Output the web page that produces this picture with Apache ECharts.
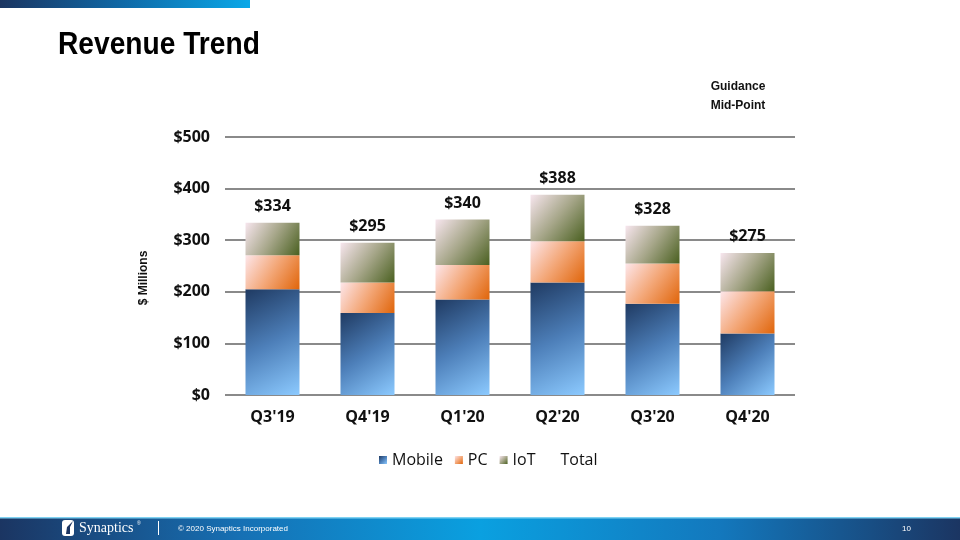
<!DOCTYPE html>
<html>
<head>
<meta charset="utf-8">
<script src="https://cdn.jsdelivr.net/npm/echarts@6/dist/echarts.min.js"></script>
<style>
html,body{margin:0;padding:0;background:#fff;}
#chart{width:960px;height:540px;}
</style>
</head>
<body>
<div id="chart"></div>
<script>
var categories = ["Q3'19", "Q4'19", "Q1'20", "Q2'20", "Q3'20", "Q4'20"];
var mobile = [205, 159, 185, 218, 177, 119];
var pc = [66, 59, 67, 80, 78, 82];
var iot = [63, 77, 88, 90, 73, 74];
var totals = [334, 295, 340, 388, 328, 275];
var yTicks = [0, 100, 200, 300, 400, 500];

var chart = echarts.init(document.getElementById('chart'));
var fontMain = '"Open Sans", "Liberation Sans", sans-serif';

function grad(stops) {
  return { type: 'linear', x: 0, y: 0, x2: 1, y2: 1,
    colorStops: stops.map(function (s) { return { offset: s[0], color: s[1] }; }) };
}
var mobileColor = grad([[0, '#1f3a62'], [0.5, '#4d7fb9'], [1, '#8ccaff']]);
var pcColor = grad([[0, '#fde6ea'], [0.5, '#f3a676'], [1, '#e0650a']]);
var iotColor = grad([[0, '#f7e6ee'], [0.5, '#a6a689'], [1, '#4a6020']]);

var option = {
  animation: false,
  backgroundColor: '#ffffff',
  grid: { left: 225, right: 165, top: 137, bottom: 145, containLabel: false },
  legend: {
    top: 447, left: 374,
    itemWidth: 8, itemHeight: 8, itemGap: 12,
    textStyle: { fontFamily: fontMain, fontSize: 16, color: '#111' },
    data: [
      { name: 'Mobile', icon: 'rect' },
      { name: 'PC', icon: 'rect' },
      { name: 'IoT', icon: 'rect' },
      { name: 'Total', icon: 'rect', itemStyle: { color: 'rgba(0,0,0,0)' } }
    ]
  },
  xAxis: {
    type: 'category', data: categories,
    axisLine: { show: false }, axisTick: { show: false },
    axisLabel: { margin: 14, fontFamily: fontMain, fontWeight: 'bold', fontSize: 16, color: '#111' }
  },
  yAxis: {
    type: 'value', min: 0, max: 500, interval: 100,
    axisLine: { show: false }, axisTick: { show: false },
    splitLine: { lineStyle: { color: '#8a8a8a', width: 2 } },
    axisLabel: {
      margin: 15, fontFamily: fontMain, fontWeight: 'bold', fontSize: 16, color: '#111',
      formatter: function (v) { return yTicks.indexOf(v) >= 0 ? '$' + v : ''; }
    }
  },
  series: [
    { name: 'Mobile', type: 'bar', stack: 'rev', data: mobile, barWidth: 54, itemStyle: { color: mobileColor } },
    { name: 'PC', type: 'bar', stack: 'rev', data: pc, barWidth: 54, itemStyle: { color: pcColor } },
    { name: 'IoT', type: 'bar', stack: 'rev', data: iot, barWidth: 54, itemStyle: { color: iotColor } },
    {
      name: 'Total', type: 'line', data: totals, symbol: 'circle', symbolSize: 1,
      itemStyle: { color: 'rgba(0,0,0,0)' }, lineStyle: { width: 0, color: 'rgba(0,0,0,0)' },
      z: 10, silent: true,
      label: {
        show: true, position: 'top', distance: 8, color: '#111',
        fontFamily: fontMain, fontWeight: 'bold', fontSize: 16,
        formatter: function (p) { return '$' + p.value; }
      }
    }
  ],
  graphic: [
    { type: 'rect', x: 0, y: 0, shape: { width: 250, height: 8 },
      style: { fill: { type: 'linear', x: 0, y: 0, x2: 1, y2: 0,
        colorStops: [{ offset: 0, color: '#1b3561' }, { offset: 0.5, color: '#0f6aa8' }, { offset: 1, color: '#0aa8e8' }] } } },
    { type: 'text', x: 58, y: 45, scaleX: 0.88, originX: 0, originY: 0,
      style: { text: 'Revenue Trend', fontFamily: '"Liberation Sans", Arial, sans-serif', fontWeight: 'bold', fontSize: 32, fill: '#000', verticalAlign: 'middle' } },
    { type: 'text', x: 738, y: 87, style: { text: 'Guidance', fontFamily: '"Liberation Sans", Arial, sans-serif', fontWeight: 'bold', fontSize: 12, fill: '#111', align: 'center', verticalAlign: 'middle' } },
    { type: 'text', x: 738, y: 106, style: { text: 'Mid-Point', fontFamily: '"Liberation Sans", Arial, sans-serif', fontWeight: 'bold', fontSize: 12, fill: '#111', align: 'center', verticalAlign: 'middle' } },
    { type: 'text', x: 144, y: 278, rotation: Math.PI / 2,
      style: { text: '$ Millions', fontFamily: '"Liberation Sans", Arial, sans-serif', fontWeight: 'bold', fontSize: 12, fill: '#111', align: 'center', verticalAlign: 'middle' } },
    // footer
    { type: 'rect', x: 0, y: 518, shape: { width: 960, height: 22 },
      style: { fill: { type: 'linear', x: 0, y: 0, x2: 1, y2: 0,
        colorStops: [{ offset: 0, color: '#1b3562' }, { offset: 0.25, color: '#1670b4' }, { offset: 0.5, color: '#0aa0e0' }, { offset: 0.75, color: '#1378bd' }, { offset: 1, color: '#1b3562' }] } } },
    { type: 'rect', x: 0, y: 517, shape: { width: 960, height: 1.5 }, style: { fill: '#7fd2f2' } },
    { type: 'rect', x: 62, y: 520, shape: { width: 12, height: 16, r: 3 }, style: { fill: '#ffffff' } },
    { type: 'polygon', shape: { points: [[66, 534], [67, 527], [73, 521], [70, 527], [70, 534]] }, style: { fill: '#1b3562' } },
    { type: 'text', x: 79, y: 528, style: { text: 'Synaptics', fontFamily: '"Liberation Serif", "DejaVu Serif", serif', fontSize: 14, fill: '#ffffff', verticalAlign: 'middle' } },
    { type: 'text', x: 137, y: 524, style: { text: '®', fontFamily: '"Liberation Sans", sans-serif', fontSize: 5, fill: '#ffffff', verticalAlign: 'middle' } },
    { type: 'rect', x: 158, y: 521, shape: { width: 1, height: 14 }, style: { fill: '#ffffff' } },
    { type: 'text', x: 178, y: 528.5, style: { text: '© 2020 Synaptics Incorporated', fontFamily: '"Liberation Sans", Arial, sans-serif', fontSize: 8, fill: '#ffffff', verticalAlign: 'middle' } },
    { type: 'text', x: 902, y: 528.5, style: { text: '10', fontFamily: '"Liberation Sans", Arial, sans-serif', fontSize: 8, fill: '#ffffff', verticalAlign: 'middle' } }
  ]
};
chart.setOption(option);
</script>
</body>
</html>
